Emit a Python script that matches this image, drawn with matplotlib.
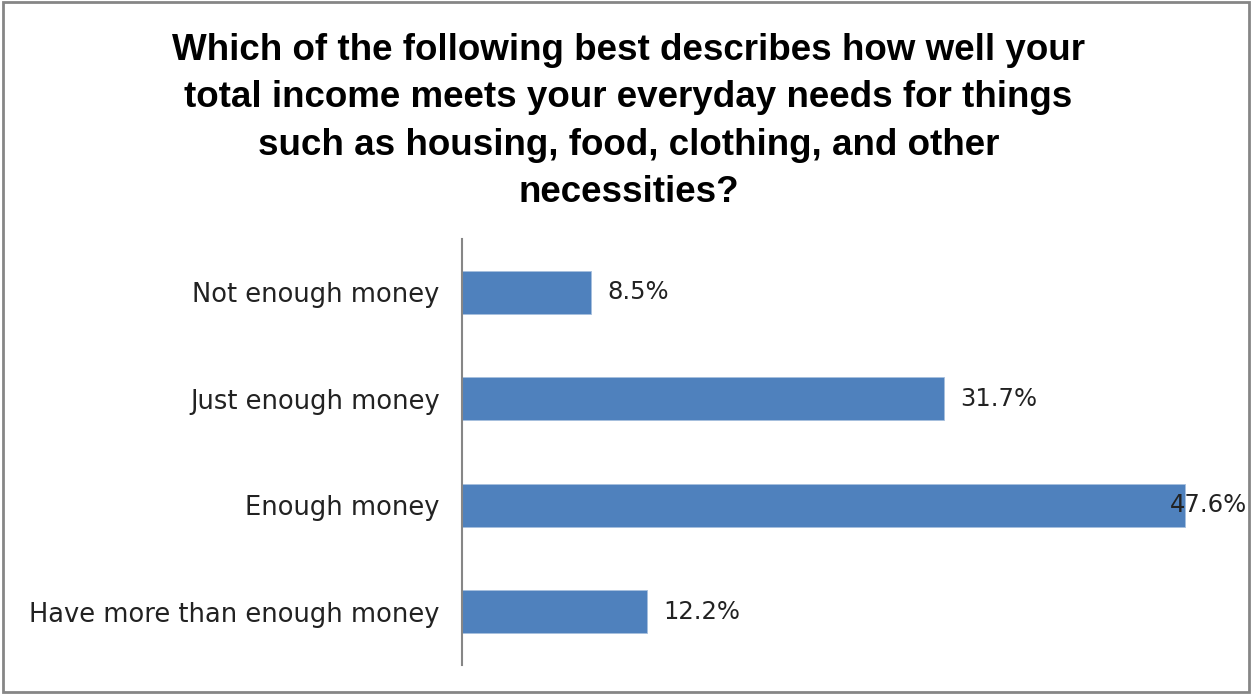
import matplotlib.pyplot as plt
from matplotlib.patches import Rectangle

categorias = ['Not enough money', 'Just enough money', 'Enough money',
              'Have more than enough money']
valores = [8.5, 31.7, 47.6, 12.2]
rotulos = ['8.5%', '31.7%', '47.6%', '12.2%']

titulo = ('Which of the following best describes how well your\n'
          'total income meets your everyday needs for things\n'
          'such as housing, food, clothing, and other\n'
          'necessities?')

fig = plt.figure(figsize=(12.52, 6.94), dpi=100)
ax = fig.add_axes([0.369, 0.0418, 0.607, 0.6138])

y = list(range(len(categorias)))
ax.barh(y, valores, height=0.4, color='#4F81BD', edgecolor='#A7BFDE', linewidth=0.6)
ax.set_ylim(len(categorias) - 0.5, -0.5)
ax.set_xlim(0, 50)

ax.set_yticks(y)
ax.set_yticklabels(categorias, fontsize=18.5, family='DejaVu Sans', color='#222222')
ax.tick_params(axis='y', length=0, pad=16)
ax.set_xticks([])
for s in ['top', 'right', 'bottom']:
    ax.spines[s].set_visible(False)
ax.spines['left'].set_color('#868686')
ax.spines['left'].set_linewidth(1.5)

for i, v in enumerate(valores):
    # o maior rotulo fica por cima da barra, como no original
    dx = -16 if v == max(valores) else 16
    ax.annotate(rotulos[i], (v, i), xytext=(dx * 0.72, 0), textcoords='offset points',
                va='center', ha='left', fontsize=17.5, family='DejaVu Sans', color='#222222')

fig.text(0.502, 0.952, titulo, ha='center', va='top', fontsize=26.5,
         fontweight='bold', family='Liberation Sans', linespacing=1.45)

fig.patches.append(Rectangle((0.002, 0.003), 0.996, 0.994, transform=fig.transFigure,
                             fill=False, edgecolor='#868686', linewidth=2))

fig.savefig('out.png', dpi=100)
